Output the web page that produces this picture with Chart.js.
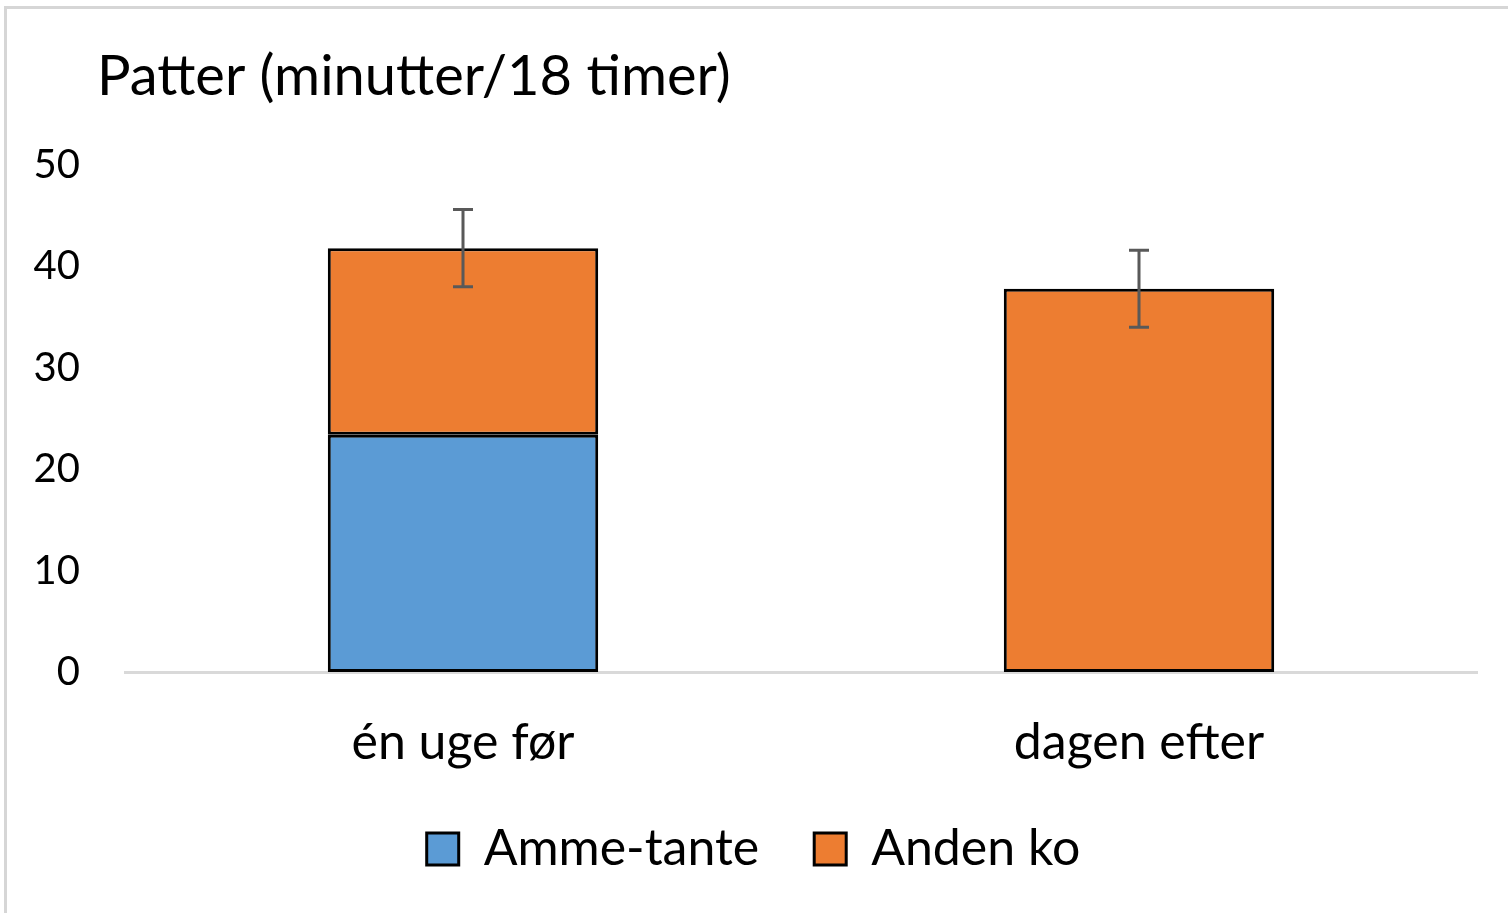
<!DOCTYPE html>
<html lang="da">
<head>
<meta charset="UTF-8">
<title>Patter</title>
<script src="https://cdn.jsdelivr.net/npm/chart.js@4.4.1/dist/chart.umd.min.js"></script>
<style>
  html, body { margin: 0; padding: 0; background: #fff; }
</style>
</head>
<body>
<canvas id="chart" width="1508" height="913"></canvas>
<script>
var categories = ["én uge før", "dagen efter"];
var ammeTante = [23.4, 0];
var andenKo = [18.4, 37.8];
var errorPlusMinus = [3.8, 3.8];
var yTicks = [0, 10, 20, 30, 40, 50];
var chartTitle = 'Patter (minutter/18 timer)';

var FONT = "Lato, 'Open Sans', sans-serif";

// white page, grey frame (only top and left edges visible) and the title
var framePlugin = {
  id: 'frame',
  beforeDraw: function(chart) {
    var c = chart.ctx;
    c.save();
    c.fillStyle = '#fff';
    c.fillRect(0, 0, chart.width, chart.height);
    c.strokeStyle = '#d6d6d6';
    c.lineWidth = 3;
    c.beginPath();
    c.moveTo(5.5, chart.height + 5);
    c.lineTo(5.5, 7.5);
    c.lineTo(chart.width + 5, 7.5);
    c.stroke();
    c.fillStyle = '#000';
    c.font = '56px ' + FONT;
    c.textBaseline = 'alphabetic';
    c.textAlign = 'left';
    c.fillText(chartTitle, 97, 95);
    c.restore();
  }
};

// error bars on top of each stacked total
var errorBarPlugin = {
  id: 'errorBars',
  afterDatasetsDraw: function(chart) {
    var c = chart.ctx;
    var y = chart.scales.y;
    var meta = chart.getDatasetMeta(1);
    c.save();
    c.strokeStyle = '#595959';
    c.lineWidth = 3;
    categories.forEach(function(cat, i) {
      var total = ammeTante[i] + andenKo[i];
      var x = meta.data[i].x;
      var top = y.getPixelForValue(total + errorPlusMinus[i]);
      var bot = y.getPixelForValue(total - errorPlusMinus[i]);
      c.beginPath();
      c.moveTo(x, top); c.lineTo(x, bot);
      c.moveTo(x - 10, top); c.lineTo(x + 10, top);
      c.moveTo(x - 10, bot); c.lineTo(x + 10, bot);
      c.stroke();
    });
    c.restore();
  }
};

new Chart(document.getElementById('chart'), {
  type: 'bar',
  data: {
    labels: categories,
    datasets: [
      {
        label: 'Amme-tante',
        data: ammeTante,
        backgroundColor: '#5b9bd5',
        borderColor: '#000',
        borderWidth: 3,
        borderSkipped: false,
        categoryPercentage: 0.4,
        barPercentage: 1
      },
      {
        label: 'Anden ko',
        data: andenKo,
        backgroundColor: '#ed7d31',
        borderColor: '#000',
        borderWidth: 3,
        borderSkipped: false,
        categoryPercentage: 0.4,
        barPercentage: 1
      }
    ]
  },
  options: {
    responsive: false,
    animation: false,
    devicePixelRatio: 1,
    layout: { padding: { left: 30, right: 31, top: 165, bottom: 29 } },
    plugins: {
      title: { display: false },
      legend: {
        position: 'bottom',
        labels: {
          color: '#000',
          font: { family: FONT, size: 50 },
          boxWidth: 32,
          boxHeight: 32,
          padding: 55,
          useBorderRadius: false
        }
      },
      tooltip: { enabled: false }
    },
    scales: {
      x: {
        stacked: true,
        grid: { display: false, drawTicks: false },
        border: { display: true, color: '#d9d9d9', width: 3 },
        ticks: { color: '#000', font: { family: FONT, size: 50 }, padding: 41 },
        afterFit: function(scale) { scale.height = 97; }
      },
      y: {
        stacked: true,
        min: 0,
        max: 50,
        afterBuildTicks: function(scale) {
          scale.ticks = yTicks.map(function(v) { return { value: v }; });
        },
        grid: { display: false, drawTicks: false },
        border: { display: false },
        ticks: { color: '#000', font: { family: FONT, size: 40 }, padding: 45 },
        afterFit: function(scale) { scale.width = 95; }
      }
    }
  },
  plugins: [framePlugin, errorBarPlugin]
});
</script>
</body>
</html>
